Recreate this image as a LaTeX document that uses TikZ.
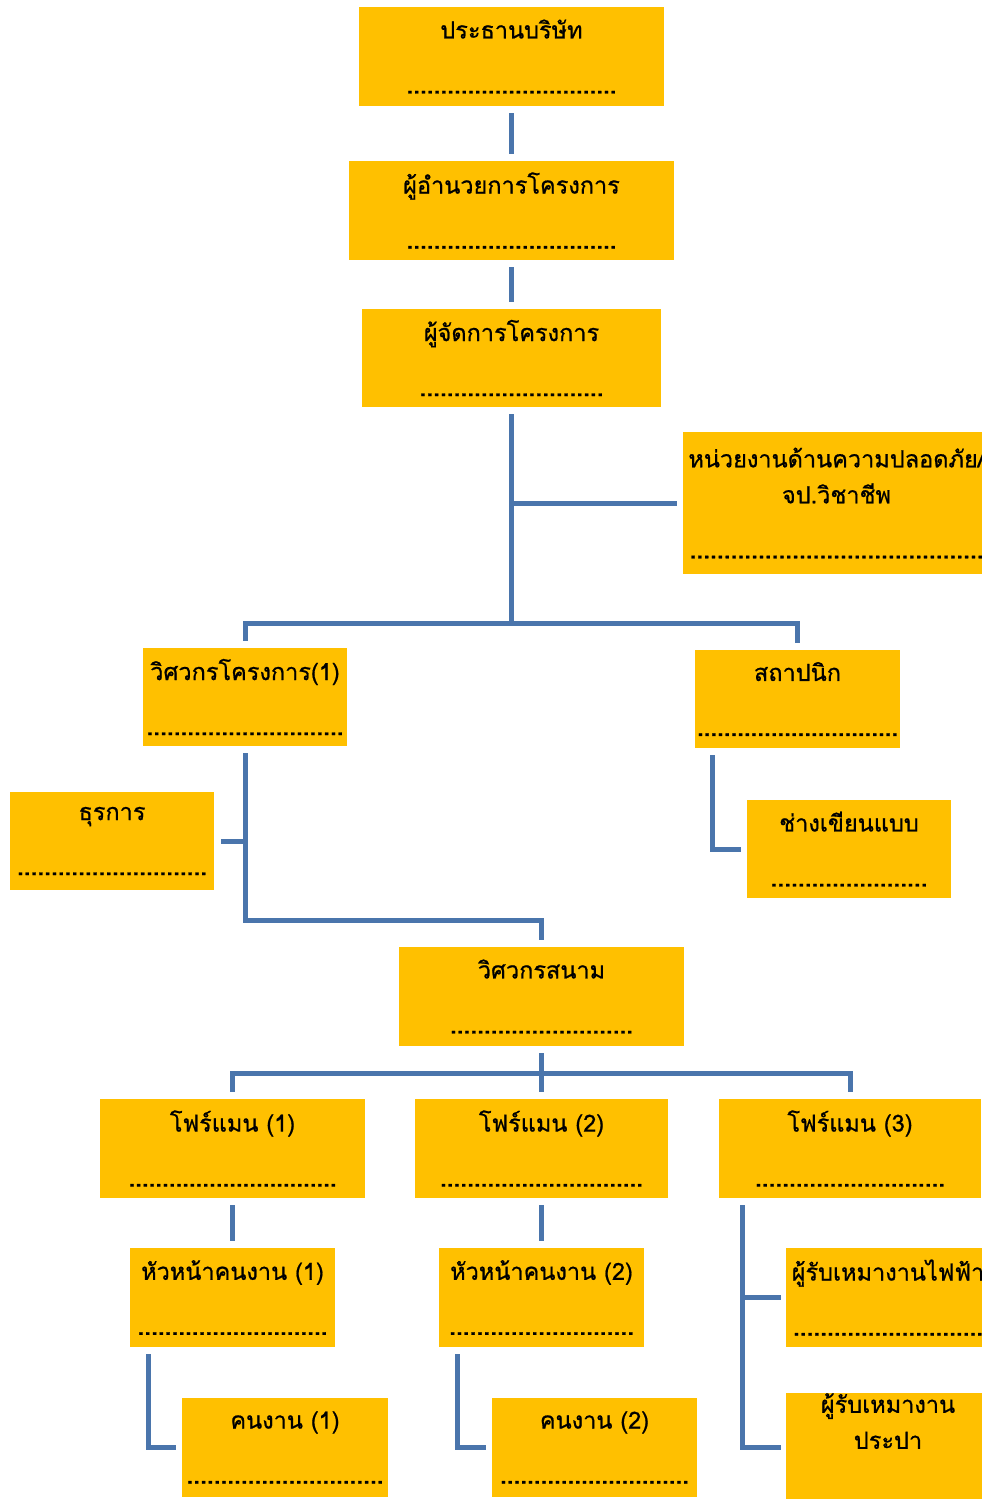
\documentclass[tikz,border=0pt]{standalone}
\usepackage{fontspec}
\newfontfamily\thaifont[Script=Thai, FakeBold=0.8]{Loma}
\definecolor{boxgold}{RGB}{255,192,0}
\definecolor{linkblue}{RGB}{74,117,172}
% a row of dots of the given width
\newcommand{\dotrow}[1]{\hbox to #1{\xleaders\hbox to 6.7pt{\hss\bfseries.\hss}\hfill}}
\begin{document}
\begin{tikzpicture}[x=1pt, y=-1pt,
% common options for blocks:
block/.style = {fill=boxgold, align=center, inner sep=0, minimum height=99pt,
            font=\thaifont\fontsize{23.5}{36}\selectfont},
% common options for the connectors:
link/.style = {draw=linkblue, line width=5pt}]
\useasboundingbox (0,0) rectangle (982,1499);
\clip (0,0) rectangle (982,1499);
% top of the chart
\node[block, minimum width=305pt] (pres) at (511.5,56.5) {ประธานบริษัท\\[19pt]\dotrow{210pt}};
\node[block, minimum width=325pt] (dir) at (511.5,210.5) {ผู้อำนวยการโครงการ\\[19pt]\dotrow{210pt}};
\node[block, minimum width=299pt, minimum height=98pt] (pm) at (511.5,358) {ผู้จัดการโครงการ\\[19pt]\dotrow{184pt}};
\node[block, minimum width=307pt, minimum height=142pt] (safety) at (836.5,503) {หน่วยงานด้านความปลอดภัย/\\จป.วิชาชีพ\\[19pt]\dotrow{294pt}};
% engineers and staff
\node[block, minimum width=204pt, minimum height=98pt] (eng1) at (245,697) {วิศวกรโครงการ(1)\\[19pt]\dotrow{197pt}};
\node[block, minimum width=205pt, minimum height=98pt] (arch) at (797.5,699) {สถาปนิก\\[19pt]\dotrow{201pt}};
\node[block, minimum width=204pt, minimum height=98pt] (admin) at (112,841) {ธุรการ\\[19pt]\dotrow{190pt}};
\node[block, minimum width=204pt, minimum height=98pt] (draft) at (849,849) {ช่างเขียนแบบ\\[19pt]\dotrow{157pt}};
\node[block, minimum width=285pt] (field) at (541.5,996.5) {วิศวกรสนาม\\[19pt]\dotrow{183pt}};
% foremen
\node[block, minimum width=265pt] (fm1) at (232.5,1148.5) {โฟร์แมน (1)\\[19pt]\dotrow{208pt}};
\node[block, minimum width=253pt] (fm2) at (541.5,1148.5) {โฟร์แมน (2)\\[19pt]\dotrow{203pt}};
\node[block, minimum width=262pt] (fm3) at (850,1148.5) {โฟร์แมน (3)\\[19pt]\dotrow{190pt}};
\node[block, minimum width=205pt] (hd1) at (232.5,1297.5) {หัวหน้าคนงาน (1)\\[19pt]\dotrow{190pt}};
\node[block, minimum width=205pt] (hd2) at (541.5,1297.5) {หัวหน้าคนงาน (2)\\[19pt]\dotrow{185pt}};
\node[block, minimum width=204pt] (elec) at (888,1297.5) {ผู้รับเหมางานไฟฟ้า\\[19pt]\dotrow{190pt}};
\node[block, minimum width=206pt] (wk1) at (285,1447.5) {คนงาน (1)\\[19pt]\dotrow{197pt}};
\node[block, minimum width=205pt] (wk2) at (594.5,1447.5) {คนงาน (2)\\[19pt]\dotrow{189pt}};
\node[block, minimum width=204pt] (plumb) at (888,1447.5) {ผู้รับเหมางาน\\ประปา\\[17pt]~};
% connectors
\coordinate (bus1) at (511.5,623);
\coordinate (fm3trunk) at ([xshift=24pt,yshift=-7pt]fm3.south west);
\draw[link] ([yshift=-7pt]pres.south) -- ([yshift=7pt]dir.north);
\draw[link] ([yshift=-7pt]dir.south) -- ([yshift=7pt]pm.north);
\draw[link] ([yshift=-7pt]pm.south) -- (bus1);
\draw[link] ([xshift=-6pt]safety.west) -- (safety.west -| bus1);
\draw[link] ([yshift=7pt]eng1.north) |- (bus1) -| ([yshift=7pt]arch.north);
\draw[link] ([yshift=-7pt]eng1.south) |- ([yshift=26pt]field.north) -- ([yshift=7pt]field.north);
\draw[link] ([xshift=7pt]admin.east) -- (admin.east -| eng1.south);
\draw[link] ([xshift=18pt,yshift=-7pt]arch.south west) |- ([xshift=-6pt]draft.west);
\draw[link] ([yshift=-7pt]field.south) -- ([yshift=7pt]fm2.north);
\draw[link] ([yshift=7pt]fm1.north) |- ([yshift=25pt]fm2.north) -| ([yshift=7pt]fm3.north);
\draw[link] ([yshift=-7pt]fm1.south) -- ([yshift=7pt]hd1.north);
\draw[link] ([yshift=-7pt]fm2.south) -- ([yshift=7pt]hd2.north);
\draw[link] ([xshift=19pt,yshift=-7pt]hd1.south west) |- ([xshift=-6pt]wk1.west);
\draw[link] ([xshift=19pt,yshift=-7pt]hd2.south west) |- ([xshift=-6pt]wk2.west);
\draw[link] (fm3trunk) |- ([xshift=-5pt]plumb.west);
\draw[link] ([xshift=-5pt]elec.west) -- (elec.west -| fm3trunk);
\end{tikzpicture}
\end{document}
